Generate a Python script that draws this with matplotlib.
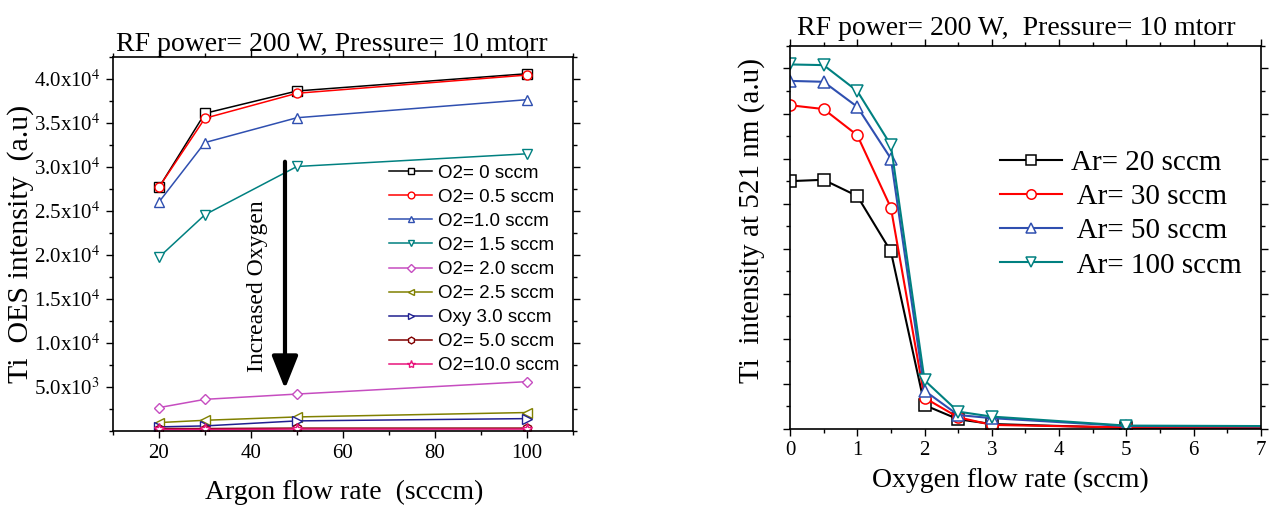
import numpy as np
import matplotlib.pyplot as plt
from matplotlib.ticker import MultipleLocator, FixedLocator, NullFormatter

plt.rcParams['font.family'] = 'Liberation Serif'
plt.rcParams['mathtext.fontset'] = 'stix'

# left panel: Ti OES intensity vs argon flow, one line per O2 flow
argon = [20, 30, 50, 100]
o2_labels = ['O2= 0 sccm', 'O2= 0.5 sccm', 'O2=1.0 sccm', 'O2= 1.5 sccm', 'O2= 2.0 sccm',
             'O2= 2.5 sccm', 'Oxy 3.0 sccm', 'O2= 5.0 sccm', 'O2=10.0 sccm']
o2_0 = [27680, 36100, 38640, 40600]
o2_05 = [27700, 35540, 38380, 40450]
o2_10 = [26020, 32780, 35600, 37650]
o2_15 = [19740, 24580, 30060, 31500]
o2_20 = [2660, 3600, 4200, 5610]
o2_25 = [960, 1220, 1600, 2100]
o2_30 = [470, 580, 1150, 1410]
o2_50 = [280, 280, 330, 330]
o2_100 = [180, 180, 220, 220]
o2_series = [o2_0, o2_05, o2_10, o2_15, o2_20, o2_25, o2_30, o2_50, o2_100]
o2_colors = ['#000000', '#FF0000', '#2F4FB0', '#008080', '#C64DC0',
             '#808000', '#202090', '#800000', '#E8157C']
o2_markers = ['s', 'o', '^', 'v', 'D', '<', '>', 'h', '*']

# right panel: Ti line at 521 nm vs oxygen flow, one line per Ar flow
oxygen = [0, 0.5, 1, 1.5, 2, 2.5, 3, 5, 10]
ar_labels = ['Ar= 20 sccm', ' Ar= 30 sccm', ' Ar= 50 sccm', ' Ar= 100 sccm']
ar20 = [5500, 5530, 5170, 3940, 530, 215, 110, 25, 15]
ar30 = [7185, 7100, 6520, 4910, 690, 260, 90, 35, 20]
ar50 = [7725, 7705, 7150, 6000, 850, 310, 240, 65, 45]
ar100 = [8090, 8075, 7500, 6300, 1080, 385, 275, 75, 50]
ar_series = [ar20, ar30, ar50, ar100]
ar_colors = ['#000000', '#FF0000', '#2F4FB0', '#008080']
ar_markers = ['s', 'o', '^', 'v']

fig = plt.figure(figsize=(12.69, 5.09), dpi=100)
ax1 = fig.add_axes([0.0890, 0.1532, 0.3625, 0.7348])
ax2 = fig.add_axes([0.6225, 0.1572, 0.3712, 0.7525])


def style_axes(ax):
    for s in ax.spines.values():
        s.set_linewidth(1.2)
    ax.tick_params(which='both', direction='out', top=True, right=True, width=1.0)
    ax.tick_params(which='major', length=5)
    ax.tick_params(which='minor', length=3)
    ax.tick_params(labelsize=15, pad=4, labelfontfamily='Liberation Serif')


#1. left chart
for vals, lab, c, m in zip(o2_series, o2_labels, o2_colors, o2_markers):
    ms = 8 if m == '*' else 6.5
    if m == 'D':
        ms = 5.5
    ax1.plot(argon, vals, color=c, marker=m, ms=ms, mfc='white', mec=c, mew=1.0,
             lw=1.1, label=lab)

ax1.set_xlim(10, 110)
ax1.set_ylim(0, 42500)
ax1.xaxis.set_major_locator(MultipleLocator(20))
ax1.xaxis.set_minor_locator(MultipleLocator(10))
yt = np.arange(5000, 40001, 5000)
ax1.yaxis.set_major_locator(FixedLocator(yt))
ax1.yaxis.set_minor_locator(MultipleLocator(2500))
ylabs = []
for v in yt:
    mant, ex = f"{v:.1e}".split('e')
    ylabs.append(f"{mant}x10$^{{{int(ex)}}}$")
ax1.set_yticklabels(ylabs)
style_axes(ax1)

ax1.set_title('RF power= 200 W, Pressure= 10 mtorr', fontsize=20, x=0.476, pad=3)
ax1.set_xlabel('Argon flow rate  (scccm)', fontsize=20)
ax1.xaxis.set_label_coords(0.502, -0.163)
ax1.xaxis.label.set_va('center')
ax1.set_ylabel('Ti  OES intensity  (a.u)', fontsize=21.5)
ax1.yaxis.set_label_coords(-0.201, 0.5)
ax1.yaxis.label.set_va('center')

ax1.annotate('', xy=(47.4, 4800), xytext=(47.4, 30600),
             arrowprops=dict(arrowstyle='-|>,head_length=0.8,head_width=0.32',
                             lw=3, color='black', mutation_scale=25,
                             shrinkA=0, shrinkB=0))
ax1.text(41.4, 16450, 'Increased Oxygen', rotation=90, ha='center', va='center',
         fontsize=17)

leg1 = ax1.legend(loc='upper left', bbox_to_anchor=(0.6, 0.712), frameon=False,
                  prop={'family': 'Liberation Sans', 'size': 13.5},
                  handlelength=2.3, handletextpad=0.3, labelspacing=0.37,
                  borderpad=0, borderaxespad=0, markerscale=0.75)

#2. right chart
for vals, lab, c, m in zip(ar_series, ar_labels, ar_colors, ar_markers):
    ax2.plot(oxygen, vals, color=c, marker=m, ms=8, mfc='white', mec=c, mew=1.1,
             lw=1.5, label=lab)

ax2.set_xlim(0, 7)
ax2.set_ylim(0, 8500)
ax2.xaxis.set_major_locator(MultipleLocator(1))
ax2.xaxis.set_minor_locator(MultipleLocator(0.5))
ax2.yaxis.set_major_locator(MultipleLocator(1000))
ax2.yaxis.set_minor_locator(MultipleLocator(500))
ax2.yaxis.set_major_formatter(NullFormatter())
style_axes(ax2)

ax2.set_title('RF power= 200 W,  Pressure= 10 mtorr', fontsize=20, x=0.48, pad=8)
ax2.set_xlabel('Oxygen flow rate (sccm)', fontsize=20)
ax2.xaxis.set_label_coords(0.4686, -0.133)
ax2.xaxis.label.set_va('center')
ax2.set_ylabel('Ti  intensity at 521 nm (a.u)', fontsize=21)
ax2.yaxis.set_label_coords(-0.0807, 0.544)
ax2.yaxis.label.set_va('center')

leg2 = ax2.legend(loc='upper left', bbox_to_anchor=(0.446, 0.73), frameon=False,
                  prop={'size': 21}, handlelength=2.14, handletextpad=0.3,
                  labelspacing=0.27, borderpad=0, borderaxespad=0, markerscale=0.85)

fig.savefig('out.png', dpi=100)
